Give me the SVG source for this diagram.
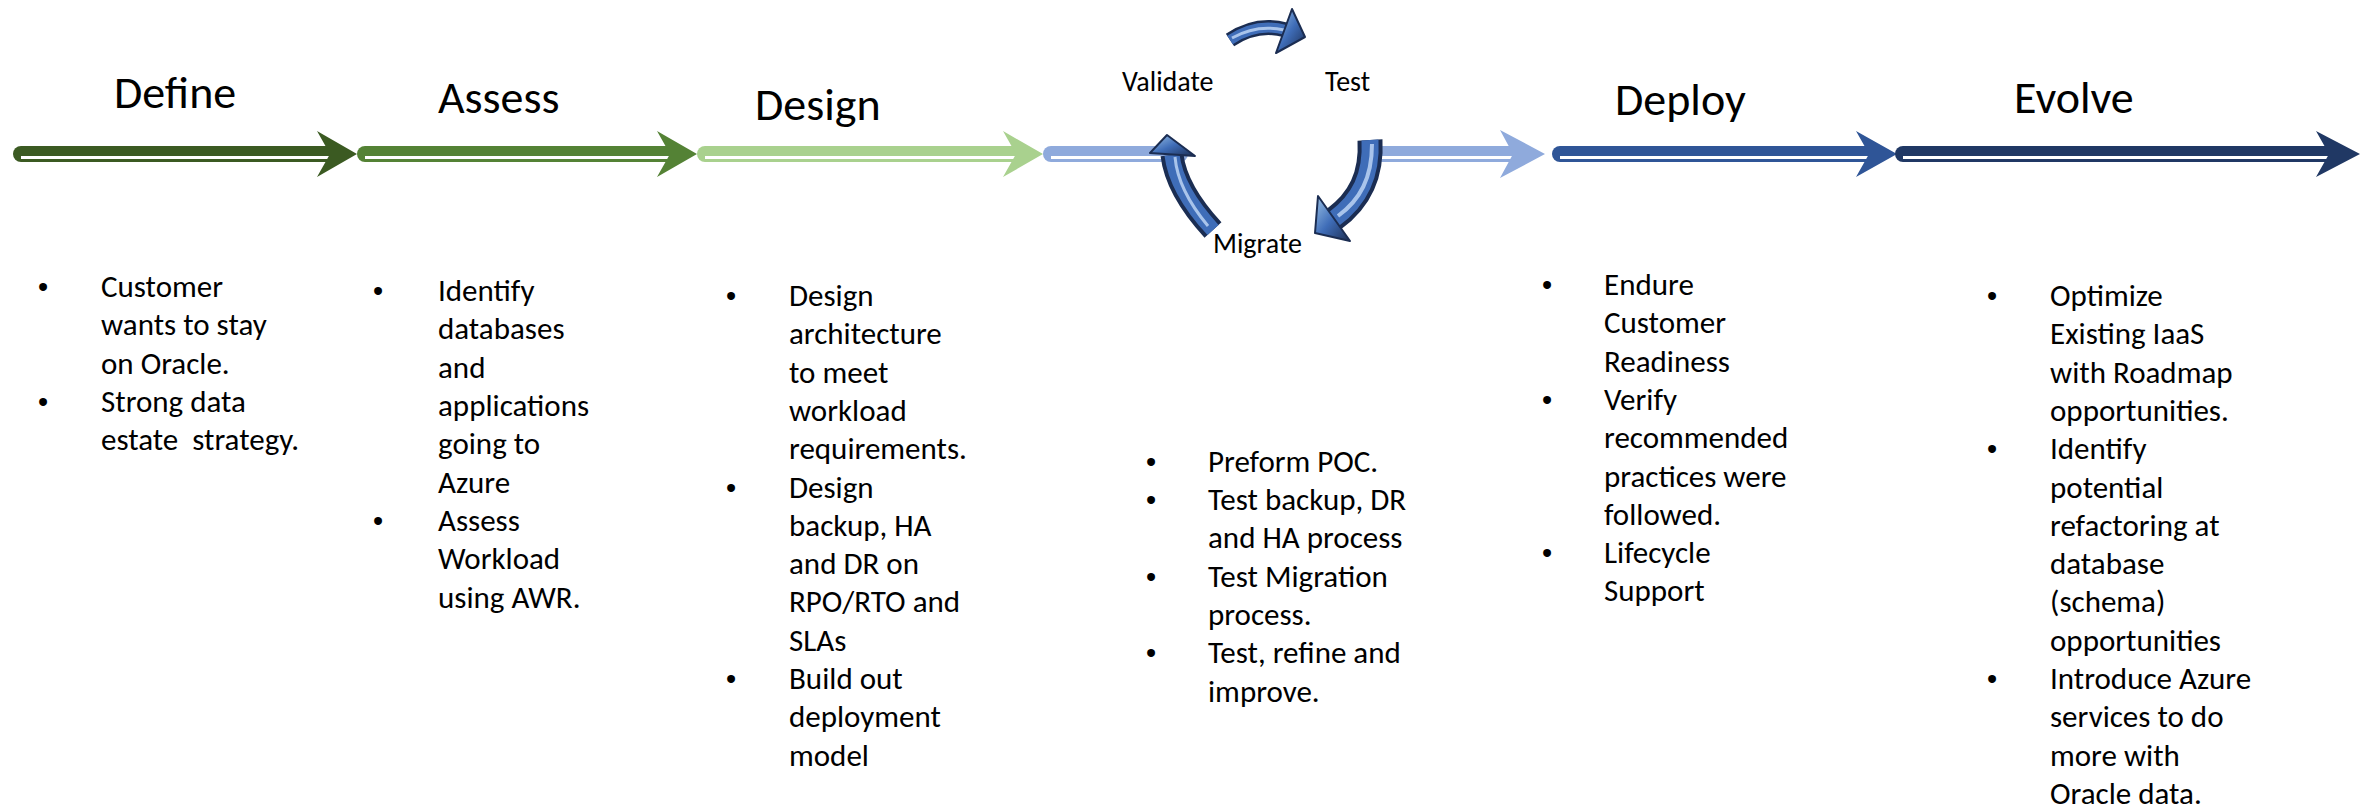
<svg xmlns="http://www.w3.org/2000/svg" width="2377" height="811" viewBox="0 0 2377 811">
<style>
.t{font-family:Carlito,Calibri,Lato,"Liberation Sans",sans-serif;fill:#000}
.h{font-size:46px}
.c{font-size:28px}
.b{font-size:31px}
.bu{font-family:"Liberation Sans",sans-serif;font-size:29px;fill:#000}
.ln{fill:none;stroke-width:16;stroke-linecap:round}
.st{fill:none;stroke:#fff;stroke-width:3}
.cy1{fill:none;stroke:#1B2D52}
.cy2{fill:none;stroke:#3F6DB8}
.cy3{fill:none;stroke:#A9C4EB}
.hd{stroke:#1B2D52;stroke-width:2;stroke-linejoin:round}
</style>
<defs>
<linearGradient id="hg" x1="0" y1="0" x2="1" y2="1">
<stop offset="0" stop-color="#9DC3E6"/>
<stop offset="0.5" stop-color="#3F6DB8"/>
<stop offset="1" stop-color="#1B2D52"/>
</linearGradient>
</defs>
<rect width="2377" height="811" fill="#fff"/>

<g id="connectors">
<!-- Define -->
<path class="ln" stroke="#3B5A22" d="M21,154 H338"/>
<path class="st" d="M21,157.5 H332"/>
<path fill="#3B5A22" d="M357,154 L317,131 L330,154 L317,177 Z"/>
<!-- Assess -->
<path class="ln" stroke="#548235" d="M365,154 H678"/>
<path class="st" d="M365,157.5 H672"/>
<path fill="#548235" d="M697,154 L657,131 L670,154 L657,177 Z"/>
<!-- Design -->
<path class="ln" stroke="#A9D18E" d="M705,154 H1024"/>
<path class="st" d="M705,157.5 H1018"/>
<path fill="#A9D18E" d="M1043,154 L1003,131 L1016,154 L1003,177 Z"/>
<!-- cycle link left -->
<path class="ln" stroke="#8FAADC" d="M1051,154 H1180"/>
<path class="st" d="M1051,157.5 H1180"/>
<!-- cycle link right -->
<path class="ln" stroke="#8FAADC" stroke-linecap="butt" d="M1370,154 H1526"/>
<path class="st" d="M1370,157.5 H1518"/>
<path fill="#8FAADC" d="M1545,154 L1500,130 L1513,154 L1500,178 Z"/>
<!-- Deploy -->
<path class="ln" stroke="#2F5597" d="M1560,154 H1878"/>
<path class="st" d="M1560,157.5 H1872"/>
<path fill="#2F5597" d="M1897,154 L1856,131 L1869,154 L1856,177 Z"/>
<!-- Evolve -->
<path class="ln" stroke="#203864" d="M1903,154 H2340"/>
<path class="st" d="M1903,157.5 H2334"/>
<path fill="#203864" d="M2360,154 L2316,131 L2329,154 L2316,177 Z"/>

<!-- cycle arrows -->
<g id="cycle-top">
<path class="cy1" stroke-width="15" d="M1230,40 Q1257,22 1286,30"/>
<path class="cy2" stroke-width="10" d="M1230,40 Q1257,22 1286,30"/>
<path class="cy3" stroke-width="3" d="M1232,38 Q1257,24 1284,30"/>
<path class="hd" fill="url(#hg)" d="M1292,9 L1305,37 L1276,53 Z"/>
</g>
<g id="cycle-right">
<path class="cy1" stroke-width="25" d="M1370,140 C1372,175 1360,200 1334,219"/>
<path class="cy2" stroke-width="17" d="M1370,140 C1372,175 1360,200 1334,219"/>
<path class="cy3" stroke-width="4" d="M1372,144 C1372,178 1360,200 1338,216"/>
<path class="hd" fill="url(#hg)" d="M1318,196 L1315,233 L1350,241 Z"/>
</g>
<g id="cycle-left">
<path class="cy1" stroke-width="23" d="M1213,230 C1190,205 1175,180 1172,155"/>
<path class="cy2" stroke-width="15" d="M1213,230 C1190,205 1175,180 1172,155"/>
<path class="cy3" stroke-width="3" d="M1208,226 C1188,202 1177,180 1175,157"/>
<path class="hd" fill="url(#hg)" d="M1150,153 L1167,135 L1195,156 Z"/>
</g>
</g>

<g id="define">
<text class="t h" x="114" y="108">Define</text>
<text class="bu" x="38" y="297">•</text>
<text class="t b" x="101" y="297">Customer</text>
<text class="t b" x="101" y="335">wants to stay</text>
<text class="t b" x="101" y="374">on Oracle.</text>
<text class="bu" x="38" y="412">•</text>
<text class="t b" x="101" y="412">Strong data</text>
<text class="t b" x="101" y="450" style="white-space:pre">estate  strategy.</text>
</g>

<g id="assess">
<text class="t h" x="438" y="113">Assess</text>
<text class="bu" x="373" y="301">•</text>
<text class="t b" x="438" y="301">Identify</text>
<text class="t b" x="438" y="339">databases</text>
<text class="t b" x="438" y="378">and</text>
<text class="t b" x="438" y="416">applications</text>
<text class="t b" x="438" y="454">going to</text>
<text class="t b" x="438" y="493">Azure</text>
<text class="bu" x="373" y="531">•</text>
<text class="t b" x="438" y="531">Assess</text>
<text class="t b" x="438" y="569">Workload</text>
<text class="t b" x="438" y="608">using AWR.</text>
</g>

<g id="design">
<text class="t h" x="755" y="120">Design</text>
<text class="bu" x="726" y="306">•</text>
<text class="t b" x="789" y="306">Design</text>
<text class="t b" x="789" y="344">architecture</text>
<text class="t b" x="789" y="383">to meet</text>
<text class="t b" x="789" y="421">workload</text>
<text class="t b" x="789" y="459">requirements.</text>
<text class="bu" x="726" y="498">•</text>
<text class="t b" x="789" y="498">Design</text>
<text class="t b" x="789" y="536">backup, HA</text>
<text class="t b" x="789" y="574">and DR on</text>
<text class="t b" x="789" y="612">RPO/RTO and</text>
<text class="t b" x="789" y="651">SLAs</text>
<text class="bu" x="726" y="689">•</text>
<text class="t b" x="789" y="689">Build out</text>
<text class="t b" x="789" y="727">deployment</text>
<text class="t b" x="789" y="766">model</text>
</g>

<g id="validate-test-migrate">
<text class="t c" x="1122" y="91">Validate</text>
<text class="t c" x="1325" y="91">Test</text>
<text class="t c" x="1213" y="253">Migrate</text>
<text class="bu" x="1146" y="472">•</text>
<text class="t b" x="1208" y="472">Preform POC.</text>
<text class="bu" x="1146" y="510">•</text>
<text class="t b" x="1208" y="510">Test backup, DR</text>
<text class="t b" x="1208" y="548">and HA process</text>
<text class="bu" x="1146" y="587">•</text>
<text class="t b" x="1208" y="587">Test Migration</text>
<text class="t b" x="1208" y="625">process.</text>
<text class="bu" x="1146" y="663">•</text>
<text class="t b" x="1208" y="663">Test, refine and</text>
<text class="t b" x="1208" y="702">improve.</text>
</g>

<g id="deploy">
<text class="t h" x="1615" y="115">Deploy</text>
<text class="bu" x="1542" y="295">•</text>
<text class="t b" x="1604" y="295">Endure</text>
<text class="t b" x="1604" y="333">Customer</text>
<text class="t b" x="1604" y="372">Readiness</text>
<text class="bu" x="1542" y="410">•</text>
<text class="t b" x="1604" y="410">Verify</text>
<text class="t b" x="1604" y="448">recommended</text>
<text class="t b" x="1604" y="487">practices were</text>
<text class="t b" x="1604" y="525">followed.</text>
<text class="bu" x="1542" y="563">•</text>
<text class="t b" x="1604" y="563">Lifecycle</text>
<text class="t b" x="1604" y="601">Support</text>
</g>

<g id="evolve">
<text class="t h" x="2014" y="113">Evolve</text>
<text class="bu" x="1987" y="306">•</text>
<text class="t b" x="2050" y="306">Optimize</text>
<text class="t b" x="2050" y="344">Existing IaaS</text>
<text class="t b" x="2050" y="383">with Roadmap</text>
<text class="t b" x="2050" y="421">opportunities.</text>
<text class="bu" x="1987" y="459">•</text>
<text class="t b" x="2050" y="459">Identify</text>
<text class="t b" x="2050" y="498">potential</text>
<text class="t b" x="2050" y="536">refactoring at</text>
<text class="t b" x="2050" y="574">database</text>
<text class="t b" x="2050" y="612">(schema)</text>
<text class="t b" x="2050" y="651">opportunities</text>
<text class="bu" x="1987" y="689">•</text>
<text class="t b" x="2050" y="689">Introduce Azure</text>
<text class="t b" x="2050" y="727">services to do</text>
<text class="t b" x="2050" y="766">more with</text>
<text class="t b" x="2050" y="804">Oracle data.</text>
</g>
</svg>
